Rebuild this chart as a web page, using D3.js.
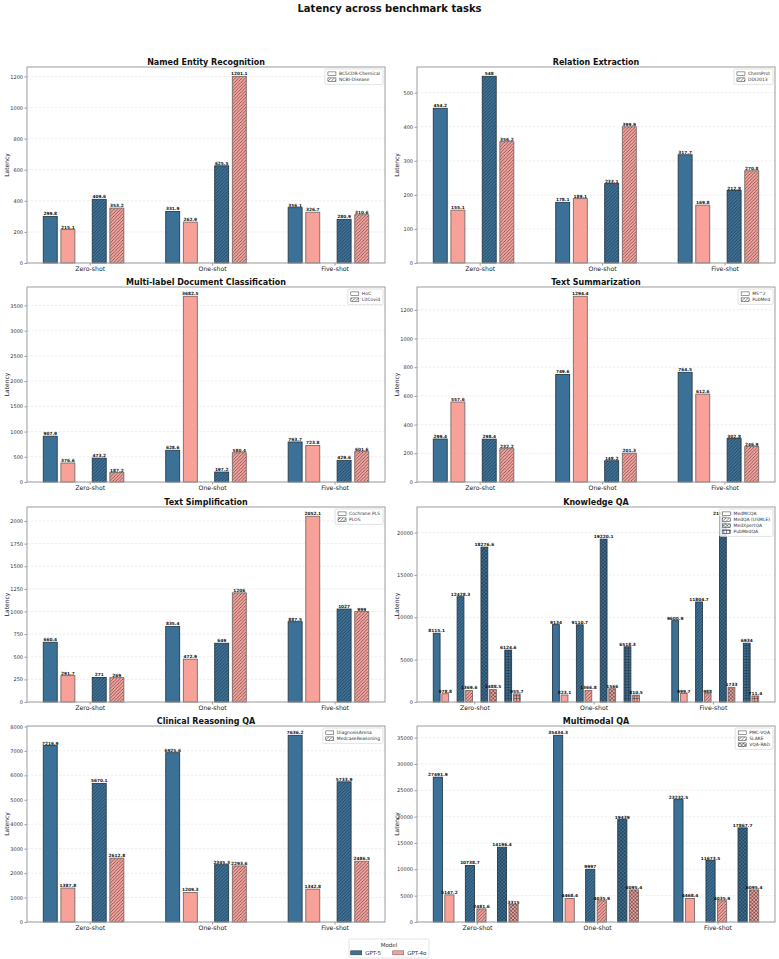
<!DOCTYPE html>
<html><head><meta charset="utf-8">
<script src="https://cdn.jsdelivr.net/npm/d3@7"></script>
<style>
body{margin:0;background:#fff}
svg{display:block;font-family:"DejaVu Sans",sans-serif}
</style>
</head><body>
<svg id="chart" width="779" height="959"></svg>
<script>
// ---------------- data ----------------
const groups = ["Zero-shot", "One-shot", "Five-shot"];
const models = ["GPT-5", "GPT-4o"];

const nerTitle = "Named Entity Recognition";
const nerDatasets = ["BC5CDR-Chemical", "NCBI-Disease"];
const nerGPT5 = [[299.8, 331.9, 356.1], [409.6, 625.5, 280.9]];
const nerGPT4o = [[215.1, 262.9, 326.7], [353.2, 1201.1, 310.6]];
const nerTicks = [0, 200, 400, 600, 800, 1000, 1200];

const reTitle = "Relation Extraction";
const reDatasets = ["ChemProt", "DDI2013"];
const reGPT5 = [[454.2, 178.1, 317.7], [548, 233.1, 212.8]];
const reGPT4o = [[155.1, 189.1, 169.8], [356.2, 399.9, 270.8]];
const reTicks = [0, 100, 200, 300, 400, 500];

const mldcTitle = "Multi-label Document Classification";
const mldcDatasets = ["HoC", "LitCovid"];
const mldcGPT5 = [[907.9, 628.6, 793.7], [473.2, 197.2, 429.6]];
const mldcGPT4o = [[376.6, 3682.5, 723.8], [187.2, 580.4, 601.6]];
const mldcTicks = [0, 500, 1000, 1500, 2000, 2500, 3000, 3500];

const tsumTitle = "Text Summarization";
const tsumDatasets = ["MS^2", "PubMed"];
const tsumGPT5 = [[299.4, 749.6, 764.5], [298.4, 148.2, 302.8]];
const tsumGPT4o = [[557.6, 1294.4, 612.6], [232.2, 201.3, 246.9]];
const tsumTicks = [0, 200, 400, 600, 800, 1000, 1200];

const tsimTitle = "Text Simplification";
const tsimDatasets = ["Cochrane PLS", "PLOS"];
const tsimGPT5 = [[660.4, 835.4, 887.5], [271, 649, 1027]];
const tsimGPT4o = [[291.7, 472.9, 2052.1], [269, 1206, 999]];
const tsimTicks = [0, 250, 500, 750, 1000, 1250, 1500, 1750, 2000];

const kqaTitle = "Knowledge QA";
const kqaDatasets = ["MedMCQA", "MedQA (USMLE)", "MedXpertQA", "PubMedQA"];
const kqaGPT5 = [[8115.1, 9134, 9600.9], [12428.3, 9110.7, 11804.7], [18276.6, 19220.1, 21921.5], [6124.6, 6518.3, 6934]];
const kqaGPT4o = [[978.8, 823.1, 999.7], [1369.6, 1366.8, 988], [1488.5, 1566, 1733], [955.7, 810.5, 711.4]];
const kqaTicks = [0, 5000, 10000, 15000, 20000];

const crTitle = "Clinical Reasoning QA";
const crDatasets = ["DiagnosisArena", "MedcaseReasoning"];
const crGPT5 = [[7216.9, 6925.6, 7636.2], [5670.1, 2345.3, 5733.9]];
const crGPT4o = [[1387.8, 1209.3, 1342.8], [2612.8, 2293.6, 2486.5]];
const crTicks = [0, 1000, 2000, 3000, 4000, 5000, 6000, 7000, 8000];

const mmTitle = "Multimodal QA";
const mmDatasets = ["PMC-VQA", "SLAKE", "VQA-RAD"];
const mmGPT5 = [[27491.9, 35434.3, 23232.5], [10738.7, 9997, 11673.5], [14196.4, 19439, 17867.7]];
const mmGPT4o = [[5147.2, 4468.4, 4468.4], [2481.6, 4035.9, 4035.9], [3315, 6095.4, 6095.4]];
const mmTicks = [0, 5000, 10000, 15000, 20000, 25000, 30000, 35000];

const mainTitle = "Latency across benchmark tasks";
const yLabel = "Latency";
const legendTitle = "Model";

// ---------------- style / layout ----------------
const modelColors = ["#3b7097", "#f8a199"];
const panels = [
  {title: nerTitle, datasets: nerDatasets, values: [nerGPT5, nerGPT4o], ticks: nerTicks},
  {title: reTitle, datasets: reDatasets, values: [reGPT5, reGPT4o], ticks: reTicks},
  {title: mldcTitle, datasets: mldcDatasets, values: [mldcGPT5, mldcGPT4o], ticks: mldcTicks},
  {title: tsumTitle, datasets: tsumDatasets, values: [tsumGPT5, tsumGPT4o], ticks: tsumTicks},
  {title: tsimTitle, datasets: tsimDatasets, values: [tsimGPT5, tsimGPT4o], ticks: tsimTicks},
  {title: kqaTitle, datasets: kqaDatasets, values: [kqaGPT5, kqaGPT4o], ticks: kqaTicks},
  {title: crTitle, datasets: crDatasets, values: [crGPT5, crGPT4o], ticks: crTicks},
  {title: mmTitle, datasets: mmDatasets, values: [mmGPT5, mmGPT4o], ticks: mmTicks}
];
const colLeft = [27, 417];
const plotW = 358;
const rowTop = [67, 287, 507, 726];
const rowH = [196, 195, 195, 196];

const svg = d3.select("#chart");
const defs = svg.append("defs");

// hatch patterns
const fills = {blue: modelColors[0], pink: modelColors[1], white: "#ffffff"};
function patternPath(kind, s) {
  if (kind === "/") return `M0,${s} L${s},0 M${-s/2},${s/2} L${s/2},${-s/2} M${s/2},${s*1.5} L${s*1.5},${s/2}`;
  if (kind === "x") return `M0,${s} L${s},0 M${-s/2},${s/2} L${s/2},${-s/2} M${s/2},${s*1.5} L${s*1.5},${s/2} M0,0 L${s},${s} M${-s/2},${s/2} L${s/2},${s*1.5} M${s/2},${-s/2} L${s*1.5},${s/2}`;
  if (kind === "+") return `M${s/2},0 L${s/2},${s} M0,${s/2} L${s},${s/2}`;
  return "";
}
Object.entries(fills).forEach(([name, col]) => {
  ["/", "x", "+"].forEach((k, ki) => {
    const s = k === "+" ? 2.8 : (k === "x" ? 3.6 : 3.3);
    const p = defs.append("pattern").attr("id", `h_${name}_${ki}`)
      .attr("patternUnits", "userSpaceOnUse").attr("width", s).attr("height", s);
    p.append("rect").attr("width", s).attr("height", s).attr("fill", col);
    p.append("path").attr("d", patternPath(k, s)).attr("stroke", "#1e2a33")
      .attr("stroke-width", 0.55).attr("fill", "none");
  });
});
function fillFor(name, d) {
  if (d === 0) return fills[name];
  return `url(#h_${name}_${d - 1})`;
}

// main title
svg.append("text").attr("x", 389.5).attr("y", 12).attr("text-anchor", "middle")
  .attr("font-size", 10).attr("font-weight", "bold").attr("fill", "#111").text(mainTitle);

panels.forEach((p, i) => {
  const left = colLeft[i % 2], top = rowTop[Math.floor(i / 2)], h = rowH[Math.floor(i / 2)];
  const g = svg.append("g");
  const n = p.datasets.length;
  const dw = 0.8 / n, pitch = 0.36 * dw, bw = 0.285 * dw;
  const shift = {2: -0.05, 3: -0.01, 4: 0.02}[n];
  const off = (d, m) => (d - (n - 1) / 2) * dw + shift + (m - 0.5) * pitch;
  const lo = off(0, 0) - bw / 2, hi = groups.length - 1 + off(n - 1, 1) + bw / 2;
  const mg = (hi - lo) * 0.05;
  const x = d3.scaleLinear().domain([lo - mg, hi + mg]).range([left, left + plotW]);
  const allVals = p.values.flat(2);
  const y = d3.scaleLinear().domain([0, d3.max(allVals) * 1.05]).range([top + h, top]);

  // grid
  g.append("g").selectAll("line").data(p.ticks).join("line")
    .attr("x1", left).attr("x2", left + plotW)
    .attr("y1", d => y(d)).attr("y2", d => y(d))
    .attr("stroke", "#e2e2e2").attr("stroke-width", 0.6).attr("stroke-dasharray", "2.5,1.5");

  // bars
  const bars = [];
  p.datasets.forEach((ds, d) => {
    models.forEach((m, mi) => {
      p.values[mi][d].forEach((v, gi) => {
        bars.push({d, mi, gi, v});
      });
    });
  });
  g.append("g").selectAll("rect").data(bars).join("rect")
    .attr("x", b => x(b.gi + off(b.d, b.mi) - bw / 2))
    .attr("width", b => x(b.gi + off(b.d, b.mi) + bw / 2) - x(b.gi + off(b.d, b.mi) - bw / 2))
    .attr("y", b => y(b.v)).attr("height", b => y(0) - y(b.v))
    .attr("fill", b => fillFor(b.mi === 0 ? "blue" : "pink", b.d))
    .attr("stroke", b => b.mi === 0 ? "#2a3b48" : "#7a6a68").attr("stroke-width", 0.9);

  // value labels
  g.append("g").selectAll("text").data(bars).join("text")
    .attr("x", b => x(b.gi + off(b.d, b.mi)))
    .attr("y", b => y(b.v) - 1)
    .attr("text-anchor", "middle").attr("font-size", 4.3).attr("font-weight", "bold")
    .attr("fill", "#111").text(b => String(b.v));

  // axes
  const ya = g.append("g").attr("transform", `translate(${left},0)`)
    .call(d3.axisLeft(y).tickValues(p.ticks).tickSize(2.5).tickPadding(1.5).tickFormat(d3.format("d")));
  ya.select(".domain").remove();
  ya.selectAll("text").attr("font-size", 5).attr("fill", "#333").attr("font-family", "DejaVu Sans");
  ya.selectAll("line").attr("stroke", "#555").attr("stroke-width", 0.6);
  const xa = g.append("g").attr("transform", `translate(0,${top + h})`)
    .call(d3.axisBottom(x).tickValues(d3.range(groups.length)).tickSize(2.5).tickPadding(1.5).tickFormat(j => groups[j]));
  xa.select(".domain").remove();
  xa.selectAll("text").attr("font-size", 6.2).attr("fill", "#222").attr("font-family", "DejaVu Sans");
  xa.selectAll("line").attr("stroke", "#555").attr("stroke-width", 0.6);

  // frame
  g.append("rect").attr("x", left).attr("y", top).attr("width", plotW).attr("height", h)
    .attr("fill", "none").attr("stroke", "#9c9c9c").attr("stroke-width", 1);

  // y label
  g.append("text").attr("transform", `translate(${left - 18},${top + h / 2}) rotate(-90)`)
    .attr("text-anchor", "middle").attr("font-size", 6).attr("fill", "#222").text(yLabel);

  // title
  g.append("text").attr("x", left + plotW / 2).attr("y", top - 2.5).attr("text-anchor", "middle")
    .attr("font-size", 8).attr("font-weight", "bold").attr("fill", "#111").text(p.title);

  // legend (datasets)
  const lg = g.append("g");
  const lbox = lg.append("rect");
  const rowStep = 6, pad = 1.7;
  const texts = [];
  p.datasets.forEach((ds, d) => {
    texts.push(lg.append("text").attr("font-size", 4.5).attr("fill", "#333").text(ds));
  });
  const tw = d3.max(texts, t => t.node().getComputedTextLength());
  const bwid = tw + 17, bh = pad * 2 + rowStep * n;
  const bx = left + plotW - 2 - bwid, by = top + 2;
  lbox.attr("x", bx).attr("y", by).attr("width", bwid).attr("height", bh).attr("rx", 1.2)
    .attr("fill", "#fff").attr("fill-opacity", 0.85).attr("stroke", "#cfcfcf").attr("stroke-width", 0.6);
  p.datasets.forEach((ds, d) => {
    const ry = by + pad + rowStep * d;
    lg.append("rect").attr("x", bx + 3).attr("y", ry + 1.2).attr("width", 8).attr("height", 3.6)
      .attr("fill", fillFor("white", d)).attr("stroke", "#333").attr("stroke-width", 0.5);
    texts[d].attr("x", bx + 14).attr("y", ry + 4.6);
  });
});

// bottom legend (models)
const bl = svg.append("g");
bl.append("rect").attr("x", 349).attr("y", 939).attr("width", 80).attr("height", 19).attr("rx", 1.5)
  .attr("fill", "#fff").attr("stroke", "#d0d0d0").attr("stroke-width", 0.6);
bl.append("text").attr("x", 389).attr("y", 946.5).attr("text-anchor", "middle")
  .attr("font-size", 5.5).attr("fill", "#333").text(legendTitle);
const legX = [350.7, 392.7];
models.forEach((m, mi) => {
  bl.append("rect").attr("x", legX[mi]).attr("y", 950.8).attr("width", 11).attr("height", 4)
    .attr("fill", modelColors[mi]).attr("stroke", mi === 0 ? "#2a3b48" : "#7a6a68").attr("stroke-width", 0.6);
  bl.append("text").attr("x", legX[mi] + 14.5).attr("y", 955).attr("font-size", 5.5)
    .attr("fill", "#333").text(m);
});
</script>
</body></html>
